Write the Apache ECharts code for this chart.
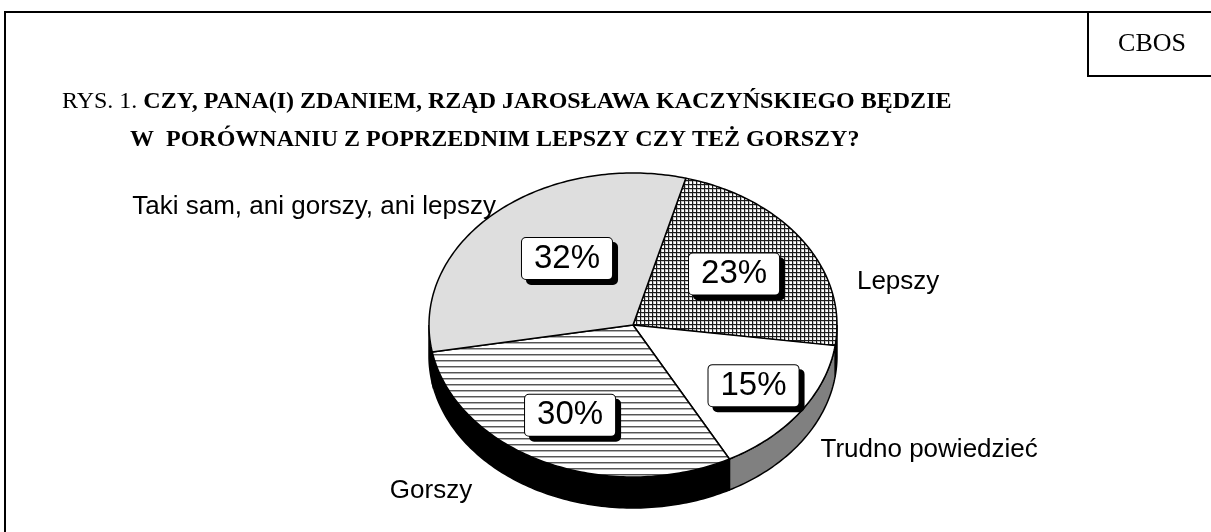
<!DOCTYPE html>
<html>
<head>
<meta charset="utf-8">
<script src="https://cdn.jsdelivr.net/npm/echarts@6/dist/echarts.min.js"></script>
<style>
  html, body { margin: 0; padding: 0; background: #fff; }
  #chart { width: 1211px; height: 532px; }
</style>
</head>
<body>
<div id="chart"></div>
<script>
// data, clockwise from the top
var categories = ['Lepszy', 'Trudno powiedzieć', 'Gorszy', 'Taki sam, ani gorszy, ani lepszy'];
var values = [23, 15, 30, 32];
var pctLabels = ['23%', '15%', '30%', '32%'];

// tilted pie geometry
var pie = { cx: 633, cy: 325, rx: 204, ry: 152, depth: 31, start: 15 };
// hand placement of the labels, like in the original
var labelNudge = [[34, 41], [0, 7], [-52, -2], [21, -6]];
var pctNudge = [[-6, 2], [15, 6], [-7, 4], [21, 4]];

var sans = "'Liberation Sans', Arial, sans-serif";
var serif = "'Liberation Serif', 'Times New Roman', serif";

function makePattern(w, h, draw) {
    var c = document.createElement('canvas');
    c.width = w;
    c.height = h;
    var ctx = c.getContext('2d');
    ctx.fillStyle = '#fff';
    ctx.fillRect(0, 0, w, h);
    draw(ctx);
    return { image: c, repeat: 'repeat' };
}

var gridFill = makePattern(4, 4, function (ctx) {
    ctx.fillStyle = '#c4c4c4';
    ctx.fillRect(0, 1, 4, 1);
    ctx.fillRect(1, 0, 1, 4);
    ctx.fillStyle = '#1a1a1a';
    ctx.fillRect(0, 0, 4, 1);
    ctx.fillRect(0, 0, 1, 4);
});
var stripeFill = makePattern(6, 6, function (ctx) {
    ctx.fillStyle = '#555';
    ctx.fillRect(0, 0, 6, 1);
    ctx.fillStyle = '#b0b0b0';
    ctx.fillRect(0, 1, 6, 1);
});

var topFill = [gridFill, '#fff', stripeFill, '#dedede'];
var sideFill = ['#000', '#808080', '#000', '#000'];

var total = values.reduce(function (a, b) { return a + b; }, 0);

function pt(deg, dy) {
    var a = deg * Math.PI / 180;
    return [pie.cx + pie.rx * Math.sin(a), pie.cy - pie.ry * Math.cos(a) + (dy || 0)];
}

function arc(a0, a1, dy) {
    var pts = [],
        n = Math.max(2, Math.ceil(Math.abs(a1 - a0)));
    for (var i = 0; i <= n; i++)
        pts.push(pt(a0 + (a1 - a0) * i / n, dy));
    return pts;
}

function renderItem(params, api) {
    var i = params.dataIndex,
        before = 0;
    for (var j = 0; j < i; j++) before += values[j];
    var a0 = pie.start + before / total * 360,
        a1 = a0 + api.value(0) / total * 360,
        mid = (a0 + a1) / 2,
        children = [];

    // visible rim of the disc (front half)
    [[90, 270], [450, 630]].forEach(function (r) {
        var b0 = Math.max(a0, r[0]),
            b1 = Math.min(a1, r[1]);
        if (b1 > b0) {
            children.push({
                type: 'polygon',
                shape: { points: arc(b0, b1, 0).concat(arc(b1, b0, pie.depth)) },
                style: { fill: sideFill[i], stroke: '#000', lineWidth: 1.5 },
                z2: 1
            });
        }
    });

    children.push({
        type: 'polygon',
        shape: { points: [[pie.cx, pie.cy]].concat(arc(a0, a1, 0)) },
        style: { fill: topFill[i], stroke: '#000', lineWidth: 1.5, lineJoin: 'round' },
        z2: 2
    });

    var rad = mid * Math.PI / 180,
        k = 0.63;
    children.push({
        type: 'text',
        z2: 10,
        style: {
            text: pctLabels[i],
            x: pie.cx + pie.rx * k * Math.sin(rad) + pctNudge[i][0],
            y: pie.cy - pie.ry * k * Math.cos(rad) + pctNudge[i][1],
            align: 'center',
            verticalAlign: 'middle',
            font: '33px ' + sans,
            fill: '#000',
            backgroundColor: '#fff',
            borderColor: '#000',
            borderWidth: 1,
            borderRadius: 4,
            padding: [4, 12, 4, 12],
            shadowColor: '#000',
            shadowBlur: 0,
            shadowOffsetX: 5,
            shadowOffsetY: 5
        }
    });

    var right = Math.sin(rad) >= 0,
        edge = pt(mid, Math.cos(rad) < 0 ? pie.depth : 0);
    children.push({
        type: 'text',
        z2: 10,
        style: {
            text: categories[i],
            x: edge[0] + (right ? 20 : -20) + labelNudge[i][0],
            y: edge[1] + labelNudge[i][1],
            align: right ? 'left' : 'right',
            verticalAlign: 'middle',
            font: '26px ' + sans,
            fill: '#000'
        }
    });

    return { type: 'group', children: children };
}

var chart = echarts.init(document.getElementById('chart'), null, { renderer: 'canvas' });

var boldTitle = { fontFamily: serif, fontSize: 24, fontWeight: 'bold', color: '#000' };

chart.setOption({
    animation: false,
    title: [
        {
            left: 62,
            top: 90,
            padding: 0,
            text: '{n|RYS. 1. }{b|CZY, PANA(I) ZDANIEM, RZĄD JAROSŁAWA KACZYŃSKIEGO BĘDZIE}',
            textStyle: {
                rich: {
                    n: { fontFamily: serif, fontSize: 24, fontWeight: 'normal', color: '#000' },
                    b: boldTitle
                }
            }
        },
        {
            left: 130,
            top: 128,
            padding: 0,
            text: 'W  PORÓWNANIU Z POPRZEDNIM LEPSZY CZY TEŻ GORSZY?',
            textStyle: boldTitle
        }
    ],
    graphic: [
        { type: 'line', shape: { x1: 4, y1: 12, x2: 1211, y2: 12 }, style: { stroke: '#000', lineWidth: 2 } },
        { type: 'line', shape: { x1: 5, y1: 11, x2: 5, y2: 532 }, style: { stroke: '#000', lineWidth: 2 } },
        { type: 'line', shape: { x1: 1088, y1: 12, x2: 1088, y2: 77 }, style: { stroke: '#000', lineWidth: 2 } },
        { type: 'line', shape: { x1: 1087, y1: 76, x2: 1211, y2: 76 }, style: { stroke: '#000', lineWidth: 2 } },
        {
            type: 'text',
            x: 1152,
            y: 44,
            style: { text: 'CBOS', font: '26px ' + serif, fill: '#000', align: 'center', verticalAlign: 'middle' }
        }
    ],
    series: [
        {
            type: 'custom',
            coordinateSystem: 'none',
            renderItem: renderItem,
            data: values
        }
    ]
});
</script>
</body>
</html>
